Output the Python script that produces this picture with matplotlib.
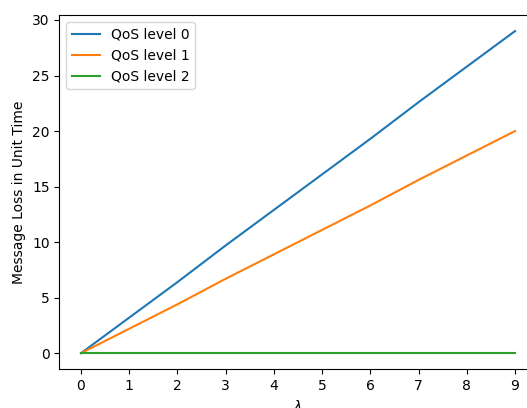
import matplotlib
matplotlib.use("Agg")
import matplotlib.pyplot as plt

# === DATA ===
lam = [0, 1, 2, 3, 4, 5, 6, 7, 8, 9]
loss_qos0 = [0, 3.2, 6.4, 9.7, 12.9, 16.1, 19.3, 22.6, 25.8, 29.0]
loss_qos1 = [0, 2.2, 4.4, 6.7, 8.9, 11.1, 13.3, 15.6, 17.8, 20.0]
loss_qos2 = [0, 0, 0, 0, 0, 0, 0, 0, 0, 0]
labels = ["QoS level 0", "QoS level 1", "QoS level 2"]

# === PLOT ===
fig = plt.figure(figsize=(5.27, 4.08), dpi=100)
# axes run past the right/bottom edge, like the cropped original
ax = fig.add_axes([0.1125, 0.0949, 0.906, 0.8684])

ax.plot(lam, loss_qos0, label=labels[0])
ax.plot(lam, loss_qos1, label=labels[1])
ax.plot(lam, loss_qos2, label=labels[2])

ax.set_xticks(lam)
ax.set_xlabel(r"$\lambda$")
ax.set_ylabel("Message Loss in Unit Time")
ax.legend(loc="upper left")

fig.savefig("out.png", dpi=100)
